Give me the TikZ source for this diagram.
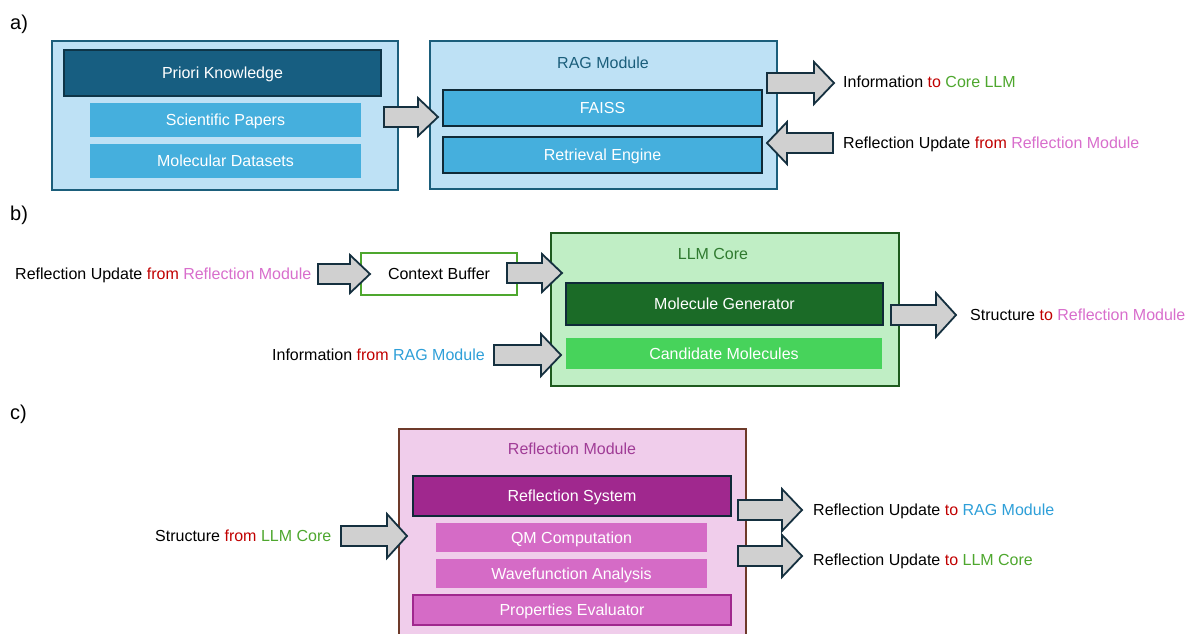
\documentclass[tikz,border=0pt]{standalone}
\usepackage{fontspec}
\setmainfont{Liberation Sans}
\definecolor{blueL}{HTML}{BEE1F5}
\definecolor{tealD}{HTML}{1B5E7B}
\definecolor{tealH}{HTML}{175E81}
\definecolor{tealB}{HTML}{0E3548}
\definecolor{blueM}{HTML}{45AFDD}
\definecolor{greenL}{HTML}{C0EEC5}
\definecolor{greenB}{HTML}{1E5A1E}
\definecolor{greenD}{HTML}{1B6B27}
\definecolor{greenM}{HTML}{47D35B}
\definecolor{greenT}{HTML}{4EA72E}
\definecolor{greenTitle}{HTML}{2F7A2F}
\definecolor{pinkL}{HTML}{F0CDEB}
\definecolor{brownB}{HTML}{6E3A2A}
\definecolor{magD}{HTML}{A0288E}
\definecolor{orchid}{HTML}{D56BC6}
\definecolor{pinkT}{HTML}{D86ECC}
\definecolor{magTitle}{HTML}{A03C96}
\definecolor{redT}{HTML}{C00000}
\definecolor{blueT}{HTML}{2E9FD8}
\definecolor{arrowFill}{HTML}{D0D0D0}
\definecolor{arrowDraw}{HTML}{15303F}
\definecolor{darkB}{HTML}{0F2A38}
\newcommand{\blockR}[5]{% name, tail x, tip x, y, head half
  \draw[barrow] (#2,#4-10) -- (#3-20,#4-10) -- (#3-20,#4-#5) -- (#3,#4) -- (#3-20,#4+#5) -- (#3-20,#4+10) -- (#2,#4+10) -- cycle;
  \coordinate (#1) at (#3,#4);}
\newcommand{\blockL}[5]{% name, tail x (right), tip x (left), y, head half
  \draw[barrow] (#2,#4-10) -- (#3+20,#4-10) -- (#3+20,#4-#5) -- (#3,#4) -- (#3+20,#4+#5) -- (#3+20,#4+10) -- (#2,#4+10) -- cycle;
  \coordinate (#1) at (#3,#4);}
\begin{document}
\begin{tikzpicture}[x=1pt,y=-1pt,
  every node/.style={font=\fontsize{16}{19}\selectfont, inner sep=0pt, text height=11.5pt, text depth=0pt},
  barrow/.style={fill=arrowFill, draw=arrowDraw, line width=1.8pt, line join=miter},
  outerA/.style={fill=blueL, draw=tealD, line width=1.6pt},
  hdrA/.style={fill=tealH, draw=tealB, line width=1.6pt, text=white},
  subA/.style={fill=blueM, text=white},
  subAb/.style={fill=blueM, draw=darkB, line width=1.6pt, text=white},
  outerB/.style={fill=greenL, draw=greenB, line width=1.4pt},
  hdrB/.style={fill=greenD, draw=darkB, line width=1.6pt, text=white},
  subB/.style={fill=greenM, text=white},
  ctxB/.style={fill=white, draw=greenT, line width=1.4pt},
  outerC/.style={fill=pinkL, draw=brownB, line width=1.4pt},
  hdrC/.style={fill=magD, draw=darkB, line width=1.6pt, text=white},
  subC/.style={fill=orchid, text=white},
  subCb/.style={fill=orchid, draw=magD, line width=1.4pt, text=white},
  lbl/.style={anchor=west},
  panel/.style={font=\fontsize{20}{24}\selectfont, anchor=west, text height=14pt}
]
\useasboundingbox (0,0) rectangle (1189,633);
\clip (0,0) rectangle (1189,633);
% ---------- a ----------
\node[panel] (pa) at (10,22) {a)};
\node[outerA, minimum width=346, minimum height=149] (know) at (225,115.5) {};
\node[hdrA, minimum width=317, minimum height=46] (priori) at (222.5,73) {Priori Knowledge};
\node[subA, minimum width=271, minimum height=34] (papers) at (225.5,120) {Scientific Papers};
\node[subA, minimum width=271, minimum height=34] (datasets) at (225.5,161) {Molecular Datasets};
\node[outerA, minimum width=347, minimum height=148] (rag) at (603.5,115) {};
\node[text=tealD] (ragt) at (603,63) {RAG Module};
\node[subAb, minimum width=319, minimum height=36] (faiss) at (602.5,108) {FAISS};
\node[subAb, minimum width=319, minimum height=36] (retr) at (602.5,155) {Retrieval Engine};
\blockR{a1}{384}{438}{117}{19}
\blockR{a2}{767}{834}{83}{21}
\blockL{a3}{833}{767}{143}{21}
\node[lbl] (infoA) at (843,82) {Information \textcolor{redT}{to} \textcolor{greenT}{Core LLM}};
\node[lbl] (reflA) at (843,143) {Reflection Update \textcolor{redT}{from} \textcolor{pinkT}{Reflection Module}};
% ---------- b ----------
\node[panel] (pb) at (10,213) {b)};
\node[lbl] (reflB) at (15,274) {Reflection Update \textcolor{redT}{from} \textcolor{pinkT}{Reflection Module}};
\node[ctxB, minimum width=156, minimum height=42] (ctx) at (439,274) {Context Buffer};
\node[outerB, minimum width=348, minimum height=153] (llm) at (725,309.5) {};
\node[text=greenTitle] (llmt) at (713,254) {LLM Core};
\node[hdrB, minimum width=317, minimum height=42] (gen) at (724.5,304) {Molecule Generator};
\node[subB, minimum width=316, minimum height=31] (cand) at (724,353.5) {Candidate Molecules};
\blockR{b1}{318}{370}{274}{19}
\blockR{b2}{507}{562}{273}{19}
\node[lbl] (infoB) at (272,355) {Information \textcolor{redT}{from} \textcolor{blueT}{RAG Module}};
\blockR{b3}{494}{561}{355}{21}
\blockR{b4}{891}{956}{315}{22}
\node[lbl] (structB) at (970,315) {Structure \textcolor{redT}{to} \textcolor{pinkT}{Reflection Module}};
% ---------- c ----------
\node[panel] (pc) at (10,412) {c)};
\node[outerC, minimum width=347, minimum height=220] (refl) at (572.5,539) {};
\node[text=magTitle] (reflt) at (572,449) {Reflection Module};
\node[hdrC, minimum width=318, minimum height=40] (rsys) at (572,496) {Reflection System};
\node[subC, minimum width=271, minimum height=29] (qm) at (571.5,537.5) {QM Computation};
\node[subC, minimum width=271, minimum height=29] (wf) at (571.5,573.5) {Wavefunction Analysis};
\node[subCb, minimum width=318, minimum height=30] (prop) at (572,610) {Properties Evaluator};
\node[lbl] (structC) at (155,536) {Structure \textcolor{redT}{from} \textcolor{greenT}{LLM Core}};
\blockR{c1}{341}{407}{536}{22}
\blockR{c2}{738}{802}{510}{21}
\blockR{c3}{738}{802}{556}{21}
\node[lbl] (updRag) at (813,510) {Reflection Update \textcolor{redT}{to} \textcolor{blueT}{RAG Module}};
\node[lbl] (updLlm) at (813,560) {Reflection Update \textcolor{redT}{to} \textcolor{greenT}{LLM Core}};
\end{tikzpicture}
\end{document}
